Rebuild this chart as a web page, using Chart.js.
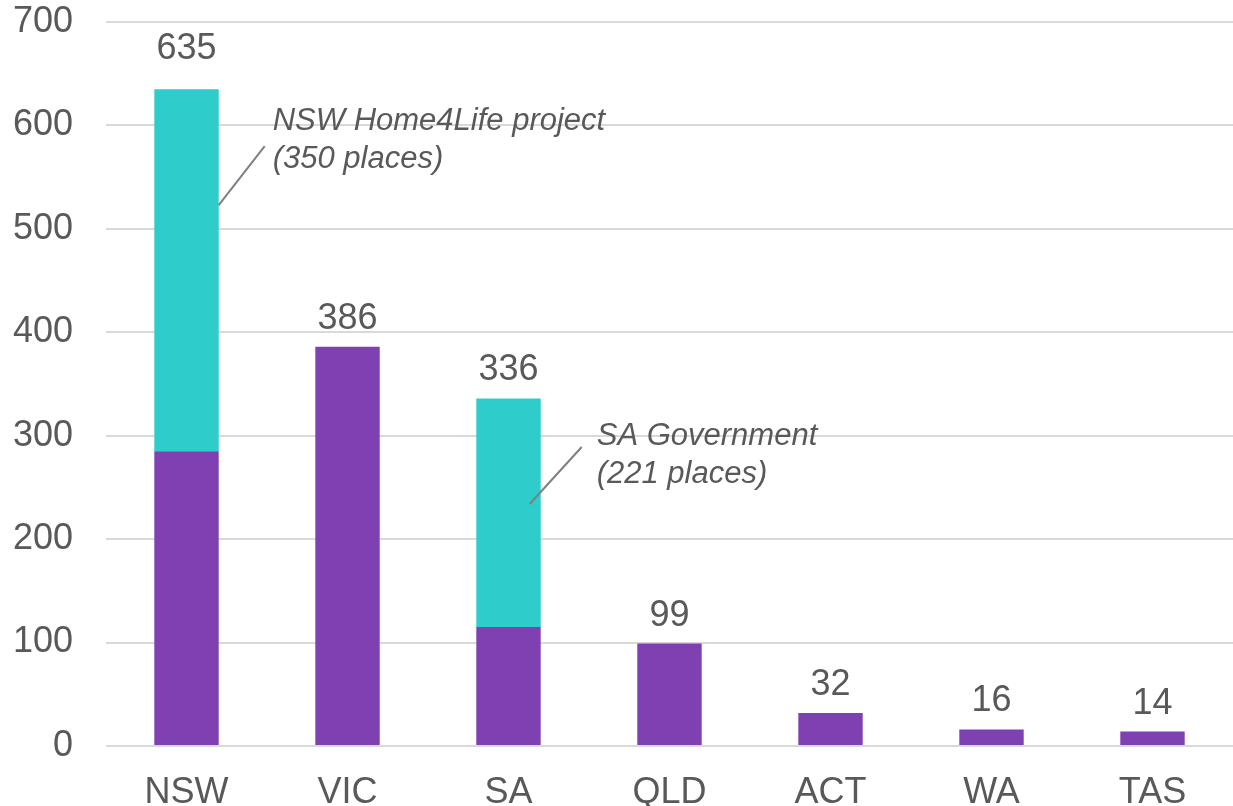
<!DOCTYPE html>
<html>
<head>
<meta charset="utf-8">
<script src="https://cdn.jsdelivr.net/npm/chart.js@4/dist/chart.umd.min.js"></script>
<style>
	body { margin: 0; background: #fff; }
	#wrap { width: 1233px; height: 806px; }
</style>
</head>
<body>
<div id="wrap"><canvas id="myChart"></canvas></div>
<script>
(function() {
	'use strict';

	// Data
	var categories = ['NSW', 'VIC', 'SA', 'QLD', 'ACT', 'WA', 'TAS'];
	var baseValues = [285, 386, 115, 99, 32, 16, 14];
	var projectValues = [350, 0, 221, 0, 0, 0, 0];
	var yTicks = [0, 100, 200, 300, 400, 500, 600, 700];

	// Callouts on the teal segments
	var noteCategories = ['NSW', 'SA'];
	var noteAnchors = [523, 234];
	var noteLines = [
		['NSW Home4Life project', '(350 places)'],
		['SA Government', '(221 places)']
	];

	var purple = '#7F40B1';
	var teal = '#2ECCCB';
	var textGrey = '#595959';

	// totals above each bar
	var totalsPlugin = {
		id: 'totals',
		afterDatasetsDraw: function(chart) {
			var ctx = chart.ctx;
			var y = chart.scales.y;
			ctx.save();
			ctx.font = '36px "Liberation Sans", Arial, sans-serif';
			ctx.fillStyle = textGrey;
			ctx.textAlign = 'center';
			ctx.textBaseline = 'alphabetic';
			chart.getDatasetMeta(0).data.forEach(function(bar, i) {
				var total = baseValues[i] + projectValues[i];
				var gap = i === 0 ? 30 : 18;
				ctx.fillText(String(total), bar.x, y.getPixelForValue(total) - gap);
			});
			ctx.restore();
		}
	};

	// italic notes with leader line
	var notesPlugin = {
		id: 'notes',
		afterDatasetsDraw: function(chart) {
			var ctx = chart.ctx;
			var y = chart.scales.y;
			var meta = chart.getDatasetMeta(1);
			var offsets = [{ sx: 0, lx: 46, ly: -59, tx: 54, ty: -75 }, { sx: -11, lx: 52, ly: -57, tx: 67, ty: -59 }];
			ctx.save();
			noteCategories.forEach(function(cat, k) {
				var idx = categories.indexOf(cat);
				var bar = meta.data[idx];
				var o = offsets[k];
				var x0 = bar.x + bar.width / 2 + o.sx;
				var y0 = y.getPixelForValue(noteAnchors[k]);
				ctx.strokeStyle = '#7F7F7F';
				ctx.lineWidth = 2;
				ctx.beginPath();
				ctx.moveTo(x0, y0);
				ctx.lineTo(x0 + o.lx, y0 + o.ly);
				ctx.stroke();
				ctx.font = 'italic 31px "Liberation Sans", Arial, sans-serif';
				ctx.fillStyle = textGrey;
				ctx.textAlign = 'left';
				ctx.textBaseline = 'alphabetic';
				noteLines[k].forEach(function(line, j) {
					ctx.fillText(line, x0 + o.tx, y0 + o.ty + j * 38);
				});
			});
			ctx.restore();
		}
	};

	var ctx = document.getElementById('myChart').getContext('2d');
	var myChart = new Chart(ctx, {
		type: 'bar',
		data: {
			labels: categories,
			datasets: [{
				label: 'Places',
				data: baseValues,
				backgroundColor: purple,
				categoryPercentage: 1,
				barPercentage: 0.4
			}, {
				label: 'Projects',
				data: projectValues,
				backgroundColor: teal,
				categoryPercentage: 1,
				barPercentage: 0.4
			}]
		},
		options: {
			responsive: true,
			maintainAspectRatio: false,
			animation: false,
			layout: { padding: { left: 13, right: 0, top: 0, bottom: 0 } },
			plugins: {
				legend: { display: false },
				tooltip: { enabled: false }
			},
			scales: {
				x: {
					stacked: true,
					grid: { display: false, drawTicks: false },
					border: { display: false },
					ticks: {
						color: textGrey,
						padding: 31,
						font: { family: '"Liberation Sans", Arial, sans-serif', size: 36, lineHeight: 0.9 }
					},
					afterFit: function(axis) {
						axis.height = 60;
						axis.paddingLeft = 0;
						axis.paddingRight = 0;
					}
				},
				y: {
					stacked: true,
					min: 0,
					max: 700,
					afterBuildTicks: function(axis) {
						axis.ticks = yTicks.map(function(v) { return { value: v }; });
					},
					grid: { color: '#D9D9D9', lineWidth: 2, drawTicks: false },
					border: { display: false },
					ticks: {
						color: textGrey,
						padding: 33,
						font: { family: '"Liberation Sans", Arial, sans-serif', size: 36 }
					},
					afterFit: function(axis) {
						axis.width = 93;
						axis.paddingTop = 22;
						axis.paddingBottom = 0;
					}
				}
			}
		},
		plugins: [totalsPlugin, notesPlugin]
	});
})();
</script>
</body>
</html>
